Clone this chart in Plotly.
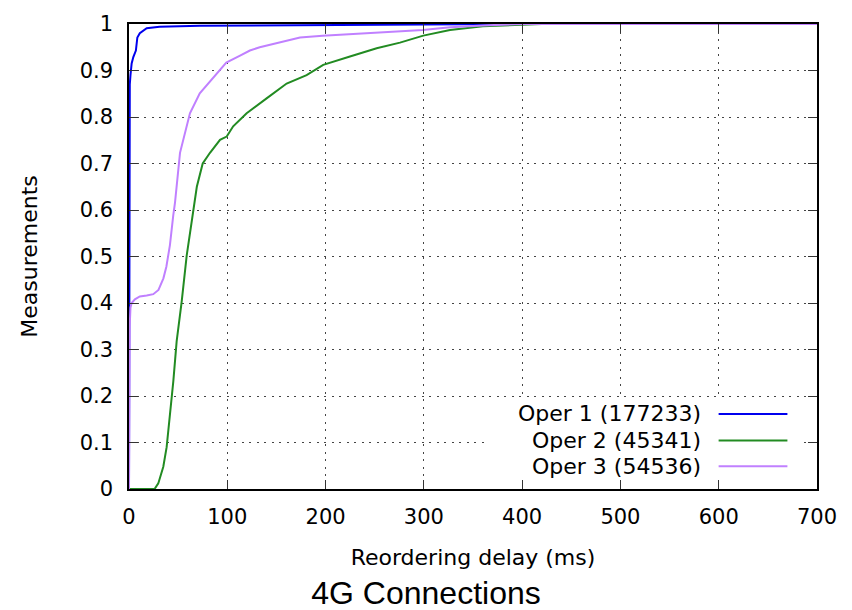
import plotly.graph_objects as go

# ---------------- data ----------------
oper1_x = [0, 0.3, 0.8, 1.5, 2.7, 4.4, 7, 8.5, 11, 18, 31, 72, 174, 300, 400, 700]
oper1_y = [0, 0.70, 0.87, 0.89, 0.915, 0.929, 0.943, 0.971, 0.98, 0.991, 0.994, 0.996, 0.998, 0.999, 1.0, 1.0]

oper2_x = [0, 26, 29.8, 34.9, 38.3, 41.7, 45.1, 48.5, 53.6, 58.7, 65.4, 69, 75, 82.4, 92.6, 99.4,
           106, 119.7, 140, 160.4, 180.7, 197.6, 224.8, 252, 275.7, 299.4, 326.6, 360, 420, 700]
oper2_y = [0, 0, 0.012, 0.048, 0.09, 0.154, 0.232, 0.318, 0.403, 0.502, 0.602, 0.65, 0.70, 0.723, 0.751, 0.758,
           0.78, 0.808, 0.840, 0.872, 0.89, 0.912, 0.93, 0.948, 0.96, 0.975, 0.987, 0.995, 1.0, 1.0]

oper3_x = [0, 0.3, 0.7, 1.5, 2.7, 6, 11, 18, 24.7, 30, 35, 38, 41.6, 45, 46.8, 51.9, 62, 72, 86, 99,
           113, 123, 133, 160, 174, 197, 258, 299, 327, 360, 400, 700]
oper3_y = [0, 0.2, 0.35, 0.39, 0.40, 0.408, 0.414, 0.416, 0.419, 0.428, 0.453, 0.478, 0.524, 0.588, 0.616, 0.723,
           0.808, 0.851, 0.886, 0.917, 0.932, 0.943, 0.95, 0.964, 0.971, 0.975, 0.982, 0.987, 0.993, 0.997, 1.0, 1.0]

series_names = ["Oper 1 (177233)", "Oper 2 (45341)", "Oper 3 (54536)"]
series_colors = ["#0000ee", "#228b22", "#c080ff"]

x_ticks = [0, 100, 200, 300, 400, 500, 600, 700]
y_ticks = [0, 0.1, 0.2, 0.3, 0.4, 0.5, 0.6, 0.7, 0.8, 0.9, 1.0]
y_tick_labels = ["0", "0.1", "0.2", "0.3", "0.4", "0.5", "0.6", "0.7", "0.8", "0.9", "1"]

x_title = "Reordering delay (ms)"
y_title = "Measurements"
chart_title = "4G Connections"

FONT = "DejaVu Sans"

# ---------------- figure ----------------
fig = go.Figure()
for xs, ys, name, col in zip([oper1_x, oper2_x, oper3_x], [oper1_y, oper2_y, oper3_y],
                             series_names, series_colors):
    fig.add_trace(go.Scatter(x=xs, y=ys, mode="lines", name=name,
                             line=dict(color=col, width=2), showlegend=False))

axis_common = dict(
    showline=True, linecolor="black", linewidth=1.5, mirror="allticks",
    ticks="inside", ticklen=9, tickwidth=1, tickcolor="#333333",
    showgrid=True, gridcolor="#444444", gridwidth=1, griddash="2px,5.5px",
    zeroline=False,
    tickfont=dict(family=FONT, size=21, color="black"),
)

fig.update_xaxes(range=[0, 700], tickvals=x_ticks, ticklabelstandoff=8,
                 title=dict(text=x_title, font=dict(family=FONT, size=22, color="black"), standoff=22),
                 **axis_common)
fig.update_yaxes(range=[0, 1], tickvals=y_ticks, ticktext=y_tick_labels, ticklabelstandoff=10,
                 title=dict(text=y_title, font=dict(family=FONT, size=22, color="black"), standoff=36),
                 **axis_common)

# manual legend (text right-aligned, sample line on the right)
legend_rows_y = [0.1614, 0.1045, 0.049]
fig.add_shape(type="rect", xref="paper", yref="paper", x0=0.520, x1=0.975, y0=0.028, y1=0.198,
              fillcolor="white", line=dict(width=0), layer="above")
for name, col, yy in zip(series_names, series_colors, legend_rows_y):
    fig.add_shape(type="line", xref="paper", yref="paper", x0=0.857, x1=0.957, y0=yy, y1=yy,
                  line=dict(color=col, width=2), layer="above")
    fig.add_annotation(xref="paper", yref="paper", x=0.834, y=yy, xanchor="right", yanchor="middle",
                       text=name, showarrow=False, font=dict(family=FONT, size=22, color="black"))

fig.update_layout(
    width=852, height=610,
    margin=dict(l=129, r=35, t=20, b=121),
    plot_bgcolor="white", paper_bgcolor="white",
    title=dict(text=chart_title, xref="container", yref="container", x=0.5, y=1 - 593 / 610,
               xanchor="center", yanchor="middle",
               font=dict(family="Liberation Sans, Arial", size=32, color="black")),
)

fig.write_html("out.html")
